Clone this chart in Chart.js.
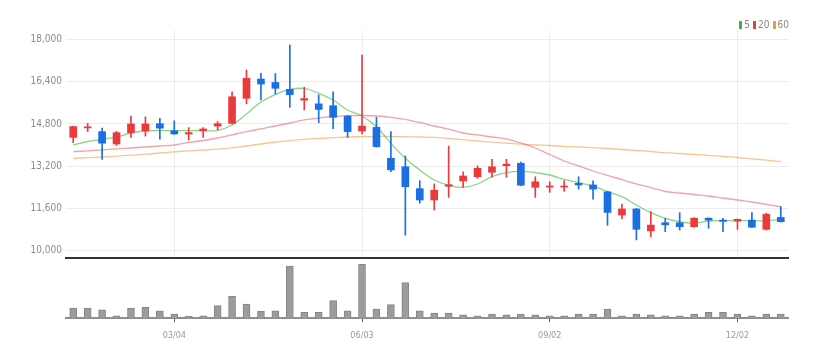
<!DOCTYPE html>
<html><head><meta charset="utf-8">
<script src="https://cdn.jsdelivr.net/npm/chart.js@4/dist/chart.umd.min.js"></script>
<style>
html,body{margin:0;padding:0;background:#fff;width:833px;height:357px;overflow:hidden;}
#p{position:absolute;left:0;top:0;width:833px;height:270px;}
#v{position:absolute;left:0;top:258px;width:833px;height:91px;}
#legend{position:absolute;top:19px;right:44px;font:10px 'Liberation Sans Narrow','DejaVu Sans Condensed',sans-serif;color:#888;white-space:nowrap;}
#legend .b{display:inline-block;width:3px;height:8px;margin:0 2px 0 3px;vertical-align:-1px;}
</style></head>
<body>
<div id="p"><canvas id="pc"></canvas></div>
<div id="v"><canvas id="vc"></canvas></div>
<div id="legend"><span class="b" style="background:#35b835"></span>5<span class="b" style="background:#ee3b3b"></span>20<span class="b" style="background:#f39a3a"></span>60</div>
<script>
const dates = ['01/15','01/22','01/29','02/05','02/12','02/19','02/26','03/04','03/11','03/18','03/25','04/01','04/08','04/15','04/22','04/29','05/06','05/13','05/20','05/27','06/03','06/10','06/17','06/24','07/01','07/08','07/15','07/22','07/29','08/05','08/12','08/19','08/26','09/02','09/09','09/16','09/23','09/30','10/07','10/14','10/21','10/28','11/04','11/11','11/18','11/25','12/02','12/09','12/16','12/23'];
const xTickLabels = ['03/04','06/03','09/02','12/02'];
const yTicks = [10000,11600,13200,14800,16400,18000];

const open  = [14290,14650,14510,14040,14470,14540,14810,14540,14420,14540,14720,14820,15770,16500,16370,16110,15700,15560,15490,15100,14530,14670,13500,13180,12350,11920,12440,12640,12800,12970,13220,13310,12400,12410,12410,12550,12490,12230,11350,11580,10750,11060,11060,10910,11230,11160,11120,11160,10810,11260];
const high  = [14720,14820,14640,14520,15100,15070,15010,14920,14660,14660,14890,16020,16840,16720,16710,17790,16190,15900,16020,15120,17410,15050,14510,13590,12650,12530,13960,12990,13210,13460,13460,13360,12800,12610,12650,12800,12650,12250,11770,11600,11480,11230,11440,11250,11250,11230,11200,11440,11420,11670];
const low   = [14090,14510,13460,13990,14290,14340,14220,14410,14190,14290,14570,14800,15560,15710,15930,15430,15330,14850,14620,14290,14420,13920,12990,10590,11800,11540,12020,12400,12740,12780,12780,12460,12020,12210,12250,12330,11950,10960,11200,10410,10530,10720,10780,10890,10850,10720,10810,10880,10780,11080];
const close = [14700,14690,14070,14470,14800,14800,14640,14420,14470,14610,14810,15830,16530,16310,16150,15910,15760,15350,15050,14510,14720,13940,13060,12420,11920,12290,12500,12830,13120,13180,13280,12480,12610,12450,12450,12490,12330,11450,11580,10810,10970,10980,10910,11230,11160,11110,11190,10890,11380,11100];
const volume = [250,250,208,58,250,268,183,100,43,58,308,543,350,168,183,1283,143,143,433,183,1325,225,333,875,183,125,125,83,58,100,83,100,83,58,58,100,100,225,58,100,83,58,58,100,143,143,100,58,100,100];
const ma5  = [14003,14135,14211,14306,14457,14533,14544,14544,14544,14544,14559,14760,15177,15631,15915,16105,16143,15961,15707,15328,15101,14696,14067,13499,13056,12677,12477,12401,12526,12802,12954,13007,12954,12867,12704,12575,12450,12234,12045,11731,11439,11227,11098,11038,11125,11136,11136,11136,11136,11189];
const ma20 = [13749,13783,13821,13855,13889,13927,13965,14003,14098,14173,14268,14389,14507,14616,14722,14836,14950,15025,15082,15109,15120,15101,15052,14969,14855,14722,14601,14457,14382,14306,14238,14079,13889,13643,13397,13208,13018,12848,12696,12526,12393,12242,12185,12128,12071,11996,11920,11844,11757,11666];
const ma60 = [13499,13522,13548,13579,13617,13654,13700,13745,13783,13813,13844,13897,13965,14041,14116,14166,14215,14249,14279,14306,14317,14325,14325,14317,14306,14291,14249,14204,14154,14109,14071,14033,14003,13984,13946,13927,13901,13870,13832,13795,13757,13711,13681,13643,13613,13567,13530,13480,13427,13374];

const RED = '#eb3a3c', BLUE = '#1a6fe3';
const FONT = "'Liberation Sans Narrow','DejaVu Sans Condensed','Liberation Sans',sans-serif";
const candleColors = dates.map((d,i) => close[i] >= open[i] ? RED : BLUE);
const markIdx = xTickLabels.map(l => dates.indexOf(l));

new Chart(document.getElementById('pc'), {
  type: 'bar',
  data: {
    labels: dates,
    datasets: [
      {type:'line', label:'5', data:ma5, borderColor:'rgba(60,185,60,0.6)', borderWidth:1.3, pointRadius:0, tension:0.4, order:3},
      {type:'line', label:'20', data:ma20, borderColor:'rgba(238,70,80,0.5)', borderWidth:1.3, pointRadius:0, tension:0.4, order:4},
      {type:'line', label:'60', data:ma60, borderColor:'rgba(245,150,60,0.55)', borderWidth:1.3, pointRadius:0, tension:0.4, order:5},
      {type:'bar', label:'wick', data:dates.map((d,i)=>[low[i],high[i]]), backgroundColor:candleColors, barThickness:1, grouped:false, order:1},
      {type:'bar', label:'body', data:dates.map((d,i)=>[open[i],close[i]]), backgroundColor:candleColors, barThickness:7, minBarLength:1, grouped:false, order:0}
    ]
  },
  options: {
    responsive:true, maintainAspectRatio:false, animation:false,
    layout:{padding:{left:0,right:45,top:30,bottom:0}},
    plugins:{legend:{display:false}, tooltip:{enabled:false}},
    scales:{
      x:{
        offset:true,
        grid:{offset:false, color:ctx => markIdx.includes(ctx.index) ? '#ececec' : 'rgba(0,0,0,0)', drawTicks:true, tickLength:12, tickColor:'rgba(0,0,0,0)'},
        ticks:{display:false, autoSkip:false},
        border:{display:true, color:'#333', width:2}
      },
      y:{
        min:9724, max:18357,
        afterBuildTicks: s => { s.ticks = yTicks.map(v => ({value:v})); },
        afterFit: s => { s.width = 66; },
        grid:{color:'#ececec', drawTicks:false},
        border:{display:false},
        ticks:{padding:4, color:'#8c8c8c', font:{family:FONT, size:10}, callback:v => Number(v).toLocaleString('en-US')}
      }
    }
  }
});

new Chart(document.getElementById('vc'), {
  type:'bar',
  data:{labels:dates, datasets:[{data:volume, backgroundColor:'#9c9c9c', borderColor:'#858585', borderWidth:1, barThickness:7}]},
  options:{
    responsive:true, maintainAspectRatio:false, animation:false,
    layout:{padding:{left:66,right:45,top:0,bottom:0}},
    plugins:{legend:{display:false}, tooltip:{enabled:false}},
    scales:{
      x:{
        offset:true,
        grid:{offset:false, drawOnChartArea:false, drawTicks:true, tickLength:4, tickColor:ctx => markIdx.includes(ctx.index) ? '#555' : 'rgba(0,0,0,0)'},
        border:{display:true, color:'#8f8f8f', width:2},
        ticks:{autoSkip:false, maxRotation:0, padding:8, color:'#999', font:{family:FONT, size:9}, callback:(v,i) => xTickLabels.includes(dates[i]) ? dates[i] : ''}
      },
      y:{display:false, min:0, max:1483}
    }
  }
});
</script>
</body></html>
